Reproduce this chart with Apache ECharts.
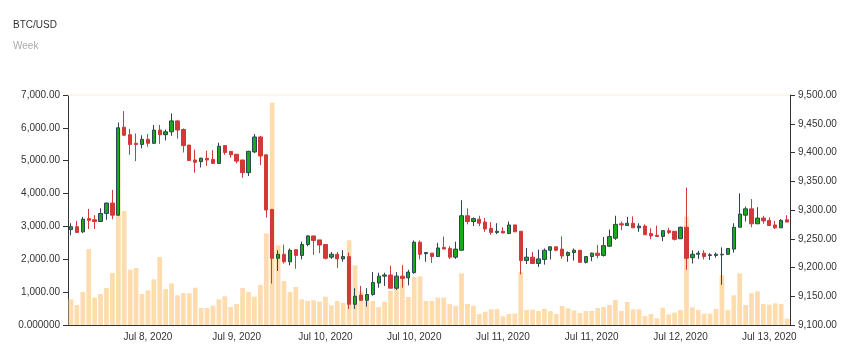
<!DOCTYPE html>
<html>
<head>
<meta charset="utf-8">
<script src="https://cdn.jsdelivr.net/npm/echarts@6/dist/echarts.min.js"></script>
<style>
html,body{margin:0;padding:0;background:#fff;}
#chart{width:851px;height:357px;}
</style>
</head>
<body>
<div id="chart"></div>
<script>
// tick labels shown on the time axis and the candle index they sit on
const tickLabels = ['Jul 8, 2020','Jul 9, 2020','Jul 10, 2020','Jul 10, 2020','Jul 11, 2020','Jul 11, 2020','Jul 12, 2020','Jul 13, 2020'];
const labelIndex = [13, 28, 43, 58, 73, 88, 103, 118];
const tickIndex = [6, 21, 36, 51, 66, 81, 96, 111];

// OHLC (price, right axis)
const open = [
9266,9271,9262,9285,9283,9280,9294,9312,9291,9444,
9431,9416,9414,9423,9416,9439,9431,9436,9455,9440,
9413,9387,9384,9390,9388,9381,9412,9402,9397,9387,
9365,9401,9427,9396,9301,9216,9223,9210,9231,9221,
9240,9255,9248,9240,9218,9223,9215,9219,9136,9152,
9143,9153,9173,9185,9187,9164,9185,9182,9191,9244,
9224,9225,9219,9235,9233,9218,9230,9290,9280,9284,
9279,9268,9261,9263,9259,9274,9263,9212,9218,9207,
9214,9230,9236,9232,9221,9226,9230,9209,9219,9225,
9221,9237,9251,9276,9273,9277,9269,9272,9259,9256,
9254,9264,9263,9250,9270,9217,9223,9225,9221,9221,
9222,9223,9232,9270,9291,9302,9276,9286,9282,9274,
9269,9283];
const close = [
9271,9261,9284,9282,9280,9294,9312,9291,9443,9430,
9414,9414,9423,9416,9439,9431,9436,9455,9439,9412,
9386,9383,9390,9387,9381,9411,9400,9396,9385,9365,
9402,9427,9394,9300,9216,9223,9210,9230,9221,9240,
9255,9247,9239,9216,9223,9215,9219,9136,9150,9143,
9153,9174,9185,9187,9164,9185,9181,9192,9244,9223,
9226,9219,9234,9232,9218,9232,9290,9280,9285,9277,
9267,9261,9263,9260,9274,9262,9212,9218,9207,9215,
9230,9236,9230,9220,9226,9230,9209,9219,9225,9221,
9238,9254,9275,9274,9277,9269,9272,9257,9255,9254,
9264,9261,9249,9270,9216,9223,9225,9219,9222,9223,
9223,9233,9270,9293,9302,9276,9286,9281,9273,9269,
9282,9279];
const low = [
9256,9260,9260,9267,9267,9279,9283,9284,9290,9429,
9396,9385,9407,9410,9415,9415,9421,9429,9424,9400,
9386,9365,9374,9377,9381,9380,9396,9391,9381,9356,
9359,9399,9378,9287,9172,9194,9207,9204,9198,9214,
9237,9222,9225,9214,9215,9199,9210,9128,9128,9143,
9132,9151,9165,9168,9164,9161,9165,9169,9189,9214,
9210,9208,9219,9232,9215,9215,9229,9275,9272,9272,
9262,9257,9258,9260,9258,9262,9188,9206,9207,9201,
9205,9214,9228,9215,9210,9212,9208,9207,9211,9216,
9219,9236,9248,9265,9273,9269,9262,9257,9249,9254,
9246,9258,9247,9250,9196,9207,9215,9214,9213,9217,
9170,9222,9226,9270,9280,9270,9276,9276,9273,9267,
9269,9279];
const high = [
9277,9281,9288,9302,9291,9303,9313,9335,9452,9472,
9441,9433,9430,9432,9448,9448,9440,9468,9456,9442,
9413,9405,9391,9403,9404,9417,9412,9402,9397,9387,
9403,9432,9429,9396,9301,9230,9240,9233,9231,9245,
9256,9255,9248,9241,9227,9227,9230,9226,9164,9168,
9164,9192,9191,9191,9203,9192,9204,9196,9247,9247,
9226,9225,9243,9254,9237,9245,9317,9303,9287,9290,
9286,9279,9277,9270,9280,9274,9263,9234,9227,9231,
9233,9237,9236,9254,9228,9233,9230,9219,9226,9239,
9253,9266,9290,9280,9288,9289,9277,9275,9268,9273,
9265,9269,9263,9271,9339,9230,9229,9230,9225,9226,
9235,9234,9277,9329,9306,9319,9305,9290,9287,9281,
9284,9291];

// traded volume (left axis)
const volume = [
781,609,1004,2313,832,944,1126,1583,5955,3470,
1684,1735,944,1055,1390,2070,1096,1268,903,974,
964,1136,517,517,588,781,872,548,639,1126,
1004,862,1217,2790,6767,2425,1339,1004,1157,781,
730,751,710,862,599,730,670,2577,1816,1015,
730,730,548,710,1035,1150,1420,852,1461,1481,
730,730,832,832,639,588,1572,639,588,335,
406,477,487,264,335,345,1613,456,467,426,
497,426,335,578,507,446,365,426,426,517,
548,609,761,426,700,477,477,274,335,203,
528,325,375,456,3297,538,456,345,345,487,
1512,456,903,1572,609,964,1025,639,619,659,
639,193];

// category names: each candle carries the date label of its block
const categories = open.map(function (_, i) {
  let k = 0;
  for (let j = 0; j < labelIndex.length; j++) { if (i >= labelIndex[j] - 7) k = j; }
  return tickLabels[k];
});

const candleData = open.map(function (o, i) { return [o, close[i], low[i], high[i]]; });

const chart = echarts.init(document.getElementById('chart'), null, {renderer: 'canvas'});
const fmt2 = function (v) { return v === 0 ? '0.000000' : v.toLocaleString('en-US', {minimumFractionDigits: 2, maximumFractionDigits: 2}); };
const axisText = {fontFamily: 'Liberation Sans, Arial, sans-serif', fontSize: 10, color: '#333'};

chart.setOption({
  animation: false,
  backgroundColor: '#fff',
  title: {
    text: 'BTC/USD', subtext: 'Week', left: 8, top: 15, itemGap: 11,
    textStyle: {fontFamily: 'Liberation Sans, Arial, sans-serif', fontSize: 10, fontWeight: 'normal', color: '#333'},
    subtextStyle: {fontFamily: 'Liberation Sans, Arial, sans-serif', fontSize: 10, color: '#aaa'}
  },
  grid: {left: 68, right: 61, top: 95, bottom: 32},
  xAxis: [
    {
      type: 'category', data: categories, boundaryGap: true, position: 'bottom',
      axisLine: {lineStyle: {color: '#333'}},
      axisTick: {length: 5, lineStyle: {color: '#333'}, interval: function (i) { return tickIndex.indexOf(i) >= 0; }},
      axisLabel: Object.assign({margin: 7, interval: function (i) { return labelIndex.indexOf(i) >= 0; }}, axisText),
      splitLine: {show: false}
    },
    {
      type: 'category', data: categories, boundaryGap: true, position: 'top',
      axisLine: {lineStyle: {color: '#fcefe2', width: 1.5}},
      axisTick: {show: false}, axisLabel: {show: false}, splitLine: {show: false}
    }
  ],
  yAxis: [
    {
      type: 'value', min: 0, max: 7000, interval: 1000, position: 'left',
      axisLine: {show: true, lineStyle: {color: '#333'}},
      axisTick: {show: true, length: 5, lineStyle: {color: '#333'}},
      axisLabel: Object.assign({margin: 8, formatter: fmt2}, axisText),
      splitLine: {show: false}
    },
    {
      type: 'value', min: 9100, max: 9500, interval: 50, position: 'right',
      axisLine: {show: true, lineStyle: {color: '#333'}},
      axisTick: {show: true, length: 5, lineStyle: {color: '#333'}},
      axisLabel: Object.assign({margin: 8, formatter: fmt2}, axisText),
      splitLine: {show: false}
    }
  ],
  series: [
    {
      name: 'Volume', type: 'bar', xAxisIndex: 1, yAxisIndex: 0, data: volume,
      barWidth: '80%', itemStyle: {color: '#fedcae'}, z: 1
    },
    {
      name: 'BTC/USD', type: 'candlestick', xAxisIndex: 0, yAxisIndex: 1, data: candleData,
      barWidth: '65%', z: 3,
      itemStyle: {color: '#18aa18', color0: '#d23a3a', borderColor: '#2f4554', borderColor0: '#d23a3a', borderWidth: 1}
    }
  ]
});
</script>
</body>
</html>
